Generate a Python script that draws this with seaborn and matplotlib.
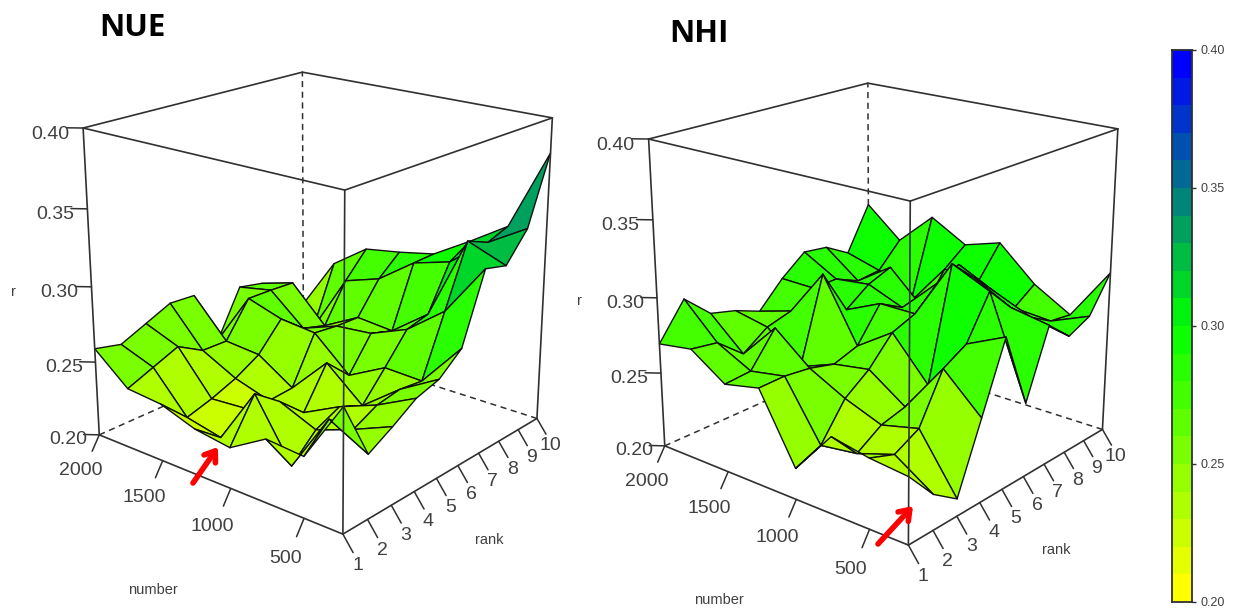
import numpy as np
import matplotlib
matplotlib.use("Agg")
import matplotlib.pyplot as plt
from matplotlib.patches import FancyArrowPatch
from mpl_toolkits.mplot3d import proj3d
import seaborn as sns

ranks = np.arange(1, 11)
numbers = np.array([250, 500, 750, 1000, 1250, 1500, 1750, 2000])
nue_r = np.array([
    [.278, .241, .250, .260, .2645, .277, .321, .317, .335, .378],
    [.239, .254, .2396, .2474, .250, .248, .287, .3265, .320, .325],
    [.241, .2154, .2307, .238, .231, .249, .2678, .2715, .3007, .309],
    [.2266, .2535, .2408, .2257, .2517, .236, .2578, .2528, .2936, .294],
    [.230, .2162, .228, .2255, .2267, .2576, .2556, .255, .276, .289],
    [.238, .2212, .2262, .2327, .242, .260, .2468, .242, .268, .285],
    [.240, .247, .254, .2444, .244, .2674, .267, .266, .227, .268],
    [.259, .255, .2625, .270, .269, .231, .2625, .259, .236, .231],
])
nhi_r = np.array([
    [.2424, .2228, .2112, .2544, .298, .2487, .2921, .2784, .285, .3076],
    [.2448, .2388, .2472, .2776, .2863, .3132, .2966, .2837, .2748, .2726],
    [.2494, .2306, .241, .2451, .252, .3243, .3095, .2942, .2768, .287],
    [.2203, .2271, .250, .2618, .2792, .2851, .2993, .3059, .2894, .3094],
    [.2636, .264, .262, .2577, .263, .2851, .2761, .2688, .2906, .302],
    [.2582, .2596, .2812, .2483, .3044, .2741, .2855, .2914, .2613, .3156],
    [.2735, .2709, .2565, .2681, .2727, .2823, .2827, .2754, .277, .2933],
    [.2696, .293, .277, .2725, .2657, .2826, .2956, .2933, .2836, .3136],
])
r_ticks = [0.20, 0.25, 0.30, 0.35, 0.40]
number_ticks = [500, 1000, 1500, 2000]
n_levels = 20

W, H = 1233, 610
sns.set_theme(style="white")
plt.rcParams["font.family"] = ["Liberation Sans", "DejaVu Sans"]
palette = sns.blend_palette(["#ffff00", "#00ff00", "#0000ff"], n_levels)
label_col = "#404040"
line_col = "#303030"


def facet_colors(z):
    mean = (z[:-1, :-1] + z[1:, :-1] + z[:-1, 1:] + z[1:, 1:]) / 4
    idx = np.clip(((mean - 0.2) / 0.2 * n_levels).astype(int), 0, n_levels - 1)
    return np.array(palette)[idx]


def panel(fig, left, bottom, z):
    ax = fig.add_axes([left / W, bottom / H, 600 / W, 600 / H], projection="3d")
    ax.computed_zorder = False
    ax.view_init(19.8851, 219.9611)
    ax.set_proj_type("persp", focal_length=0.4864)
    ax.set_box_aspect((1, 1.0008, 1.0038), zoom=0.9018)
    ax.set_axis_off()

    x0, x1, y0, y1 = ranks[0], ranks[-1], numbers[0], numbers[-1]
    zb, zt = r_ticks[0], r_ticks[-1]
    dashed = dict(color=line_col, lw=1.1, ls=(0, (4, 3)), zorder=1)
    solid = dict(color=line_col, lw=1.2, zorder=3)
    ax.plot([x1, x1], [y1, y1], [zb, zt], **dashed)
    ax.plot([x0, x1], [y1, y1], [zb, zb], **dashed)
    ax.plot([x1, x1], [y0, y1], [zb, zb], **dashed)

    X, Y = np.meshgrid(ranks, numbers)
    ax.plot_surface(X, Y, z, facecolors=facet_colors(z), rstride=1, cstride=1,
                    shade=False, edgecolor="#101010", linewidth=1.0, antialiased=True, zorder=2)

    for xa, ya, xb, yb in [(x0, y1, x0, y0), (x0, y0, x1, y0), (x1, y0, x1, y1), (x1, y1, x0, y1)]:
        ax.plot([xa, xb], [ya, yb], [zt, zt], **solid)
    for xa, ya in [(x0, y1), (x0, y0), (x1, y0)]:
        ax.plot([xa, xa], [ya, ya], [zb, zt], **solid)
    ax.plot([x0, x0], [y1, y0], [zb, zb], **solid)
    ax.plot([x0, x1], [y0, y0], [zb, zb], **solid)

    tick = dict(color=line_col, lw=1.1, zorder=3)
    labels = []
    for t in r_ticks:
        ax.plot([x0, x0 - 0.27], [y1, y1 + 70], [t, t], **tick)
        labels.append((x0 - 0.54, y1 + 140, t - 0.004, f"{t:.2f}"))
    for n in number_ticks:
        ax.plot([x0, x0 - 0.30], [n, n], [zb, zb - 0.009], **tick)
        labels.append((x0 - 0.75, n, zb - 0.0185, str(n)))
    for r in ranks:
        ax.plot([r, r], [y0, y0 - 65], [zb, zb - 0.009], **tick)
        labels.append((r, y0 - 95, zb - 0.016, str(r)))
    ax.set_xlim(x0, x1, view_margin=0)
    ax.set_ylim(y0, y1, view_margin=0)
    ax.set_zlim(zb, zt, view_margin=0)

    ax.apply_aspect()
    M = ax.get_proj()
    for lx, ly, lz, s in labels:
        px, py, _ = proj3d.proj_transform(lx, ly, lz, M)
        fig.text(px, py, s, transform=ax.transData, color=label_col, fontsize=14, ha="center", va="center")
    return ax


fig = plt.figure(figsize=(W / 100, H / 100), dpi=100)
panel(fig, 12.5, 21.9, nue_r)
panel(fig, 578, 10.9, nhi_r)

fig.text(132 / W, 1 - 28 / H, "NUE", fontsize=22.5, fontweight="bold", family="Open Sans", color="black", ha="center", va="center")
fig.text(699 / W, 1 - 34 / H, "NHI", fontsize=22.5, fontweight="bold", family="Open Sans", color="black", ha="center", va="center")
small = dict(fontsize=10.5, color=label_col, ha="center", va="center")
fig.text(153 / W, 1 - 590 / H, "number", **small)
fig.text(489 / W, 1 - 540 / H, "rank", **small)
fig.text(13 / W, 1 - 292 / H, "r", **small)
fig.text(719 / W, 1 - 600 / H, "number", **small)
fig.text(1056 / W, 1 - 550 / H, "rank", **small)
fig.text(579 / W, 1 - 301 / H, "r", **small)

for (xa, ya), (xb, yb) in [((193, 483), (218, 447)), ((878, 544), (913, 506))]:
    fig.add_artist(FancyArrowPatch((xa / W, 1 - ya / H), (xb / W, 1 - yb / H), transform=fig.transFigure,
                                   arrowstyle="->,head_length=7,head_width=5", color="#ff0000", lw=4, shrinkA=0, shrinkB=0))

# colour key
cax = fig.add_axes([1172 / W, 1 - 602 / H, 20 / W, 552 / H])
sns.heatmap(np.arange(n_levels)[::-1].reshape(-1, 1), ax=cax, cmap=palette, cbar=False,
            xticklabels=False, yticklabels=False)
cax.set_yticks(np.linspace(0, n_levels, 5))
cax.set_yticklabels([f"{t:.2f}" for t in r_ticks[::-1]], fontsize=9, color=label_col)
cax.yaxis.tick_right()
cax.tick_params(axis="y", length=3, width=1, color=line_col, pad=3, right=True, left=False, rotation=0)
for s in cax.spines.values():
    s.set_visible(True)
    s.set_color(line_col)
    s.set_linewidth(1.3)

fig.savefig("out.png", dpi=100)
